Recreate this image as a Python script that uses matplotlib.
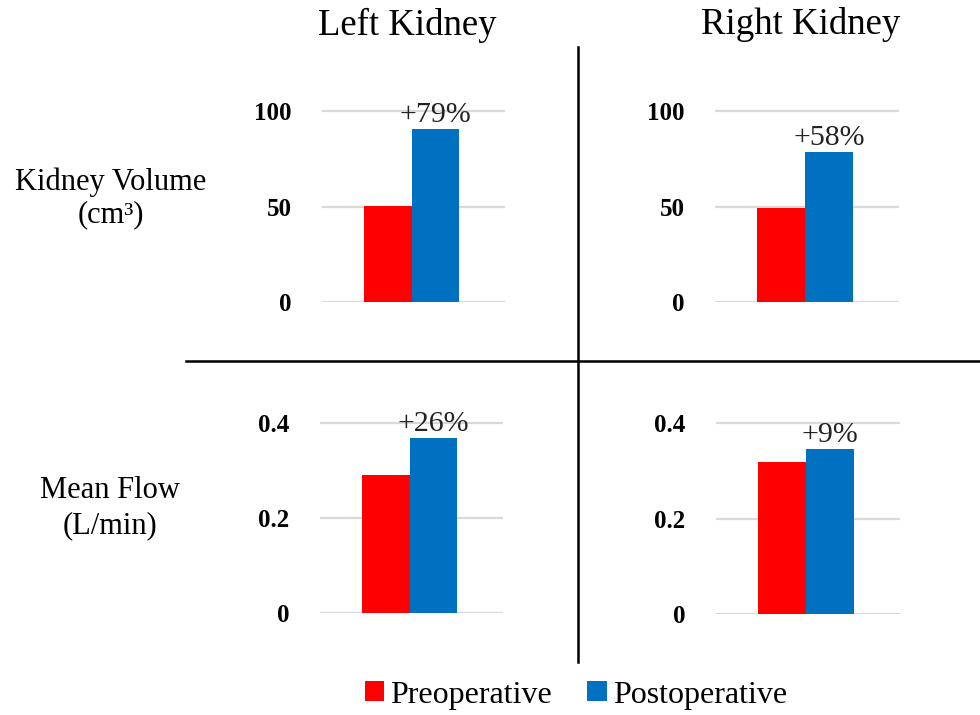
import matplotlib
matplotlib.use("Agg")
import matplotlib.pyplot as plt
from matplotlib.patches import Patch
from matplotlib.lines import Line2D

plt.rcParams['font.family'] = ['Liberation Serif', 'DejaVu Serif']

# ---- data ----
sides = ["Left Kidney", "Right Kidney"]
series = ["Preoperative", "Postoperative"]
volume_pre = [50.5, 49.5]
volume_post = [90.5, 78.5]
volume_change = ["+79%", "+58%"]
flow_pre = [0.29, 0.318]
flow_post = [0.368, 0.346]
flow_change = ["+26%", "+9%"]
volume_ticks = [0, 50, 100]
flow_ticks = [0, 0.2, 0.4]
volume_ticklabels = ["0", "50", "100"]
flow_ticklabels = ["0", "0.2", "0.4"]
row_labels = [["Kidney Volume", "(cm³)"], ["Mean Flow", "(L/min)"]]

RED = "#FF0000"
BLUE = "#0070C0"
GRID = "#D9D9D9"

W, H = 980, 715
fig = plt.figure(figsize=(W / 100, H / 100), dpi=100)


def px_axes(x0, x1, ytop, ybot):
    return fig.add_axes([x0 / W, 1 - ybot / H, (x1 - x0) / W, (ybot - ytop) / H])


# axes boxes in pixels: (x0, x1, ytop, ybot)
boxes = [
    [(322, 505, 73, 302), (715, 899, 73, 302)],
    [(320, 503, 385, 613), (716, 900, 385, 614)],
]
rows = [
    (volume_pre, volume_post, volume_change, volume_ticks, volume_ticklabels, 120),
    (flow_pre, flow_post, flow_change, flow_ticks, flow_ticklabels, 0.48),
]

bw = 0.26
for r, (pre, post, chg, ticks, tlabels, ymax) in enumerate(rows):
    for c in range(2):
        ax = px_axes(*boxes[r][c])
        ax.set_xlim(-0.5, 0.5)
        ax.set_ylim(0, ymax)
        for t in ticks:
            ax.axhline(t, color=GRID, lw=1.6, zorder=0)
        ax.bar([-0.14], [pre[c]], width=bw, color=RED, zorder=2)
        ax.bar([0.12], [post[c]], width=bw, color=BLUE, zorder=2)
        ax.annotate(chg[c], xy=(0.12, post[c]), xytext=(0, 1),
                    textcoords="offset points", ha="center", va="bottom",
                    fontsize=21.5, color="#222222", zorder=3, annotation_clip=False)
        ax.set_yticks(ticks)
        ax.set_yticklabels(tlabels, fontsize=18, fontweight="bold")
        ax.tick_params(axis="y", length=0, pad=22)
        ax.set_xticks([])
        for s in ax.spines.values():
            s.set_visible(False)
        ax.patch.set_alpha(0)

# column titles
fig.text(407 / W, 1 - 25 / H, sides[0], ha="center", va="center", fontsize=26.5)
fig.text(801 / W, 1 - 25 / H, sides[1], ha="center", va="center", fontsize=26.5)

# row labels
fig.text(111 / W, 1 - 182 / H, row_labels[0][0], ha="center", va="center", fontsize=22)
fig.text(111 / W, 1 - 215 / H, row_labels[0][1], ha="center", va="center", fontsize=22)
fig.text(110 / W, 1 - 491 / H, row_labels[1][0], ha="center", va="center", fontsize=22)
fig.text(110 / W, 1 - 526 / H, row_labels[1][1], ha="center", va="center", fontsize=22)

# divider lines
fig.add_artist(Line2D([578 / W, 578 / W], [1 - 47 / H, 1 - 662 / H], color="black", lw=1.8))
fig.add_artist(Line2D([186 / W, 1.0], [1 - 361 / H, 1 - 361 / H], color="black", lw=1.8))

# legend
handles = [Patch(facecolor=RED, edgecolor="none"), Patch(facecolor=BLUE, edgecolor="none")]
fig.legend(handles, series, loc="center", bbox_to_anchor=(576 / W, 1 - 695 / H),
           ncol=2, frameon=False, fontsize=23, handlelength=0.6, handleheight=0.6,
           handletextpad=0.2, columnspacing=1.1, borderpad=0)

fig.savefig("out.png", dpi=100)
